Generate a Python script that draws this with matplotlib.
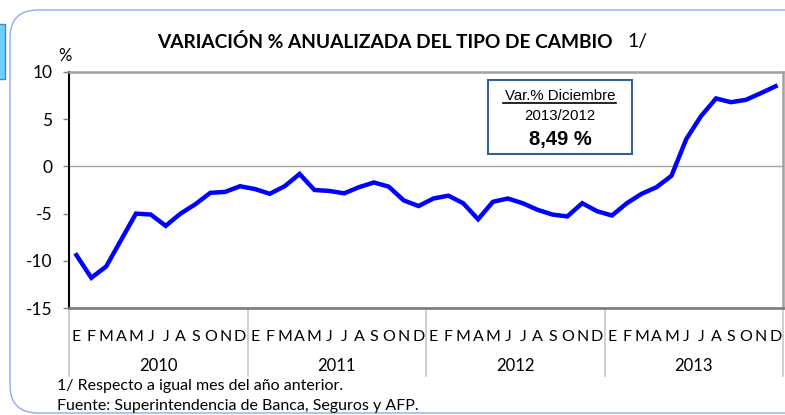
import numpy as np
import matplotlib
matplotlib.use("Agg")
import matplotlib.pyplot as plt
from matplotlib.patches import FancyBboxPatch, Rectangle
import matplotlib.transforms as mtransforms

# Datos: variación % anualizada del tipo de cambio (ene 2010 - dic 2013)
years = ["2010", "2011", "2012", "2013"]
month_letters = ["E", "F", "M", "A", "M", "J", "J", "A", "S", "O", "N", "D"]
var_2010 = [-9.4, -11.8, -10.6, -7.8, -5.0, -5.1, -6.3, -5.0, -4.0, -2.8, -2.7, -2.1]
var_2011 = [-2.4, -2.9, -2.1, -0.8, -2.5, -2.6, -2.85, -2.2, -1.7, -2.15, -3.6, -4.2]
var_2012 = [-3.4, -3.1, -3.9, -5.6, -3.75, -3.4, -3.9, -4.6, -5.1, -5.3, -3.9, -4.75]
var_2013 = [-5.2, -3.9, -2.9, -2.2, -1.0, 2.9, 5.35, 7.2, 6.8, 7.05, 7.75, 8.49]

serie = var_2010 + var_2011 + var_2012 + var_2013
x = np.arange(len(serie))

W, H = 785, 415
fig = plt.figure(figsize=(W / 100, H / 100), dpi=100)
fig.patch.set_facecolor("white")

# fondo con marco redondeado (coordenadas en pixeles)
bg = fig.add_axes([0, 0, 1, 1], zorder=0)
bg.set_xlim(0, W)
bg.set_ylim(H, 0)
bg.axis("off")
bg.add_patch(FancyBboxPatch((10, 10), 900, 403, boxstyle="round,pad=0,rounding_size=28",
                            fc="white", ec="#8FAAF0", lw=1.0))
bg.add_patch(Rectangle((-2, 24), 6.5, 55, fc="#6CD0FF", ec="#4F81BD", lw=1.0))

font = "Lato"

ax = fig.add_axes([69 / W, 1 - 308 / H, (783 - 69) / W, (308 - 72) / H], zorder=1)
ax.patch.set_visible(False)
ax.plot(x, serie, color="#0000FF", lw=3.2, solid_joinstyle="miter", zorder=3)
ax.axhline(0, color="#A6A6A6", lw=1.0, zorder=1)

ax.set_xlim(-0.5, len(serie) - 0.5)
ax.set_ylim(-15, 10)
ax.set_yticks([10, 5, 0, -5, -10, -15])
ax.set_yticklabels(["10", "5", "0", "-5", "-10", "-15"], fontsize=12.5, family=font)
ax.tick_params(axis="y", length=4, width=1, pad=8, color="#808080")

ax.set_xticks(x)
ax.set_xticklabels(month_letters * len(years), fontsize=11.5, family=font)
ax.tick_params(axis="x", length=0, pad=16)

for side in ["top", "right"]:
    ax.spines[side].set_color("#A0A0A0")
    ax.spines[side].set_linewidth(1.8)
ax.spines["bottom"].set_color("#808080")
ax.spines["bottom"].set_linewidth(2.0)
ax.spines["left"].set_color("black")
ax.spines["left"].set_linewidth(1.5)

# separadores de año y etiquetas de año
trans = mtransforms.blended_transform_factory(ax.transData, ax.transAxes)
for k in range(len(years) + 1):
    ax.plot([k * 12 - 0.5, k * 12 - 0.5], [0, -0.29], transform=trans,
            color="#C8C8C8", lw=1.2, clip_on=False)
for k, yr in enumerate(years):
    ax.text(k * 12 + 5.5, -0.246, yr, transform=trans, ha="center", va="center",
            fontsize=12, family=font)

# recuadro con la variación de diciembre
top = fig.add_axes([0, 0, 1, 1], zorder=2)
top.set_xlim(0, W)
top.set_ylim(H, 0)
top.axis("off")
top.add_patch(Rectangle((488, 80), 144, 74, fc="white", ec="#365F91", lw=1.5))
top.text(560, 96, "Var.% Diciembre", ha="center", va="center", fontsize=10.8,
         family="Liberation Sans")
top.plot([503, 616], [103.5, 103.5], color="black", lw=1.2)
top.text(560, 116, "2013/2012", ha="center", va="center", fontsize=10.8,
         family="Liberation Sans")
top.text(560, 139, "8,49 %", ha="center", va="center", fontsize=14.5, fontweight="bold",
         family="Liberation Sans")

# título
top.text(157, 42, "VARIACIÓN % ANUALIZADA DEL TIPO DE CAMBIO", ha="left", va="center",
         fontsize=13.8, fontweight="bold", family=font)
top.text(627, 42, "1/", ha="left", va="center", fontsize=14, family=font)
top.text(65, 56, "%", ha="center", va="center", fontsize=12, family=font)

# notas
top.text(57, 386, "1/ Respecto a igual mes del año anterior.",
         ha="left", va="center", fontsize=11.5, family=font)
top.text(57, 406, "Fuente: Superintendencia de Banca, Seguros y AFP.",
         ha="left", va="center", fontsize=11.5, family=font)

fig.savefig("out.png", dpi=100)
